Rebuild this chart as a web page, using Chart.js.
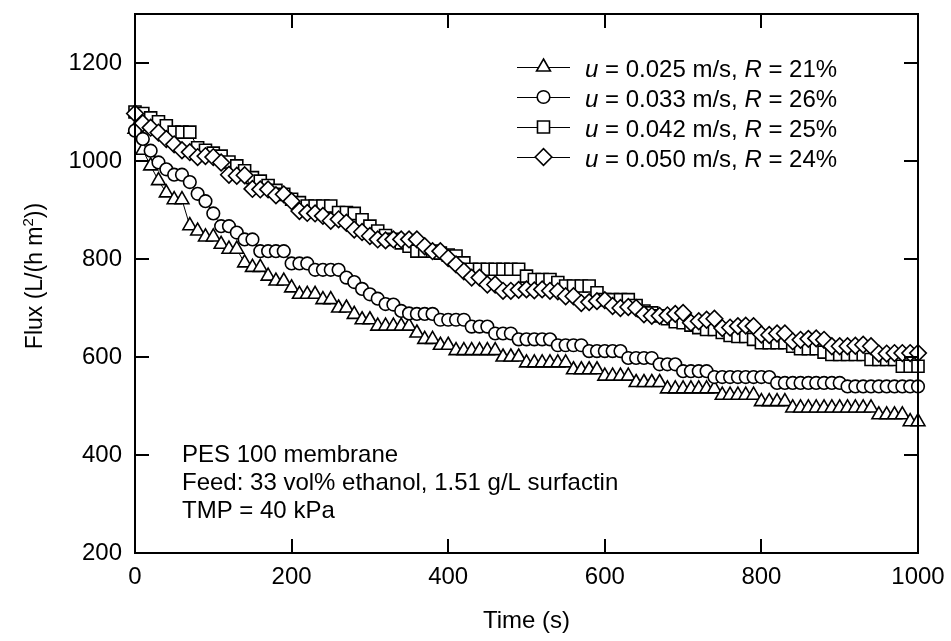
<!DOCTYPE html>
<html lang="en">
<head>
  <meta charset="UTF-8">
  <title>Flux vs time</title>
  <style>
    body {
      margin: 0;
      background: #fff;
    }
    canvas {
      display: block;
    }
  </style>
  <script src="https://cdn.jsdelivr.net/npm/chart.js"></script>
</head>
<body>
  <canvas id="chart" width="951" height="641"></canvas>

  <script>
    // time in seconds
    const time = [
      0, 10, 20, 30, 40, 50, 60, 70, 80, 90,
      100, 110, 120, 130, 140, 150, 160, 170, 180, 190,
      200, 210, 220, 230, 240, 250, 260, 270, 280, 290,
      300, 310, 320, 330, 340, 350, 360, 370, 380, 390,
      400, 410, 420, 430, 440, 450, 460, 470, 480, 490,
      500, 510, 520, 530, 540, 550, 560, 570, 580, 590,
      600, 610, 620, 630, 640, 650, 660, 670, 680, 690,
      700, 710, 720, 730, 740, 750, 760, 770, 780, 790,
      800, 810, 820, 830, 840, 850, 860, 870, 880, 890,
      900, 910, 920, 930, 940, 950, 960, 970, 980, 990,
      1000
    ];

    // flux, L/(h m2)
    const fluxU025 = [
      1065, 1022, 990, 960, 935, 921, 921, 868, 857, 845,
      845, 830, 820, 820, 792, 783, 783, 765, 755, 755,
      741, 728, 728, 728, 717, 717, 700, 700, 687, 676,
      676, 663, 663, 663, 663, 663, 649, 636, 636, 624,
      624, 613, 613, 613, 613, 613, 613, 600, 600, 600,
      588, 588, 588, 588, 588, 588, 574, 574, 574, 574,
      561, 561, 561, 561, 548, 548, 548, 548, 535, 535,
      535, 535, 535, 535, 535, 522, 522, 522, 522, 522,
      509, 509, 509, 509, 496, 496, 496, 496, 496, 496,
      496, 496, 496, 496, 496, 482, 482, 482, 482, 468,
      468
    ];
    const fluxU033 = [
      1062, 1045, 1021, 997, 983, 972, 972, 957, 933, 918,
      893, 867, 867, 854, 840, 840, 816, 816, 816, 816,
      791, 791, 791, 778, 778, 778, 778, 762, 753, 739,
      728, 719, 708, 707, 694, 689, 688, 688, 688, 676,
      676, 676, 676, 662, 662, 662, 648, 648, 648, 636,
      636, 636, 636, 636, 624, 624, 624, 624, 612, 612,
      612, 612, 612, 598, 598, 598, 598, 585, 585, 585,
      571, 571, 571, 571, 559, 559, 559, 559, 559, 559,
      559, 559, 547, 547, 547, 547, 547, 547, 547, 547,
      547, 540, 540, 540, 540, 540, 540, 540, 540, 540,
      540
    ];
    const fluxU042 = [
      1100, 1097, 1088, 1080, 1072, 1059, 1059, 1059, 1027, 1022,
      1016, 1010, 998, 990, 980, 966, 959, 950, 940, 932,
      922, 915, 908, 908, 908, 908, 895, 895, 893, 880,
      867, 857, 848, 840, 833, 826, 816, 816, 816, 812,
      808, 806, 792, 779, 779, 779, 779, 779, 779, 779,
      765, 758, 758, 758, 752, 745, 745, 745, 745, 731,
      717, 717, 717, 717, 705, 694, 690, 684, 678, 672,
      670, 665, 660, 656, 656, 650, 644, 642, 642, 636,
      629, 629, 629, 629, 622, 617, 617, 617, 610, 605,
      605, 605, 605, 605, 595, 595, 595, 595, 581, 581,
      581
    ];
    const fluxU050 = [
      1097, 1077, 1068, 1058, 1045, 1034, 1022, 1018, 1008, 1010,
      1008, 997, 972, 970, 971, 943, 942, 942, 930, 932,
      918, 898, 894, 893, 888, 878, 881, 874, 860, 855,
      847, 840, 838, 840, 840, 840, 840, 826, 816, 816,
      802, 789, 775, 762, 762, 748, 748, 735, 735, 737,
      738, 736, 738, 735, 734, 724, 724, 710, 712, 714,
      716, 704, 700, 702, 700, 687, 684, 684, 685, 688,
      690, 670, 673, 676, 678, 659, 660, 663, 664, 663,
      646, 645, 648, 648, 632, 635, 637, 638, 635, 622,
      622, 622, 623, 625, 622, 607, 607, 608, 608, 608,
      608
    ];

    const velocities = ['0.025', '0.033', '0.042', '0.050'];
    const rejections = ['21%', '26%', '25%', '24%'];
    const xTicks = [0, 200, 400, 600, 800, 1000];
    const yTicks = [200, 400, 600, 800, 1000, 1200];
    const notes = ['PES 100 membrane', 'Feed: 33 vol% ethanol, 1.51 g/L surfactin', 'TMP = 40 kPa'];

    const FONT = '"Liberation Sans", Arial, sans-serif';
    Chart.defaults.font.family = FONT;
    Chart.defaults.color = '#000';

    const markers = [
      { pointStyle: 'triangle', radius: 8 },
      { pointStyle: 'circle', radius: 6.3 },
      { pointStyle: 'rect', radius: 8.5 },
      { pointStyle: 'rectRot', radius: 8.3 }
    ];
    const seriesList = [fluxU025, fluxU033, fluxU042, fluxU050];

    function toPoints(values) {
      return values.map((v, i) => ({ x: time[i], y: v }));
    }

    const datasets = seriesList.map((values, i) => ({
      label: 'u = ' + velocities[i] + ' m/s, R = ' + rejections[i],
      data: toPoints(values),
      borderColor: '#000',
      borderWidth: 1,
      pointStyle: markers[i].pointStyle,
      pointRadius: markers[i].radius,
      pointBorderWidth: 1.6,
      pointBorderColor: '#000',
      pointBackgroundColor: '#fff',
      tension: 0,
      fill: false,
      clip: false,
      order: 4 - i
    }));

    function drawMarker(ctx, style, radius, x, y) {
      ctx.save();
      ctx.fillStyle = '#fff';
      ctx.strokeStyle = '#000';
      ctx.lineWidth = 1.6;
      if (Chart.helpers && Chart.helpers.drawPoint) {
        Chart.helpers.drawPoint(ctx, { pointStyle: style, radius: radius, borderWidth: 1.6, rotation: 0 }, x, y);
      } else {
        ctx.beginPath();
        ctx.arc(x, y, radius, 0, Math.PI * 2);
        ctx.fill();
        ctx.stroke();
      }
      ctx.restore();
    }

    // frame, inward ticks, legend, notes and axis titles
    const decorations = {
      id: 'decorations',
      afterDraw(chart) {
        const ctx = chart.ctx;
        const a = chart.chartArea;
        const xs = chart.scales.x;
        const ys = chart.scales.y;
        ctx.save();
        ctx.strokeStyle = '#000';
        ctx.lineWidth = 2;
        ctx.strokeRect(a.left, a.top, a.right - a.left, a.bottom - a.top);

        ctx.beginPath();
        xTicks.forEach(v => {
          const px = Math.round(xs.getPixelForValue(v));
          ctx.moveTo(px, a.bottom); ctx.lineTo(px, a.bottom - 14);
          ctx.moveTo(px, a.top); ctx.lineTo(px, a.top + 14);
        });
        yTicks.forEach(v => {
          const py = Math.round(ys.getPixelForValue(v));
          ctx.moveTo(a.left, py); ctx.lineTo(a.left + 14, py);
          ctx.moveTo(a.right, py); ctx.lineTo(a.right - 14, py);
        });
        ctx.stroke();

        // legend
        ctx.fillStyle = '#000';
        ctx.textBaseline = 'alphabetic';
        velocities.forEach((u, i) => {
          const yLine = 67 + i * 30;
          ctx.lineWidth = 1;
          ctx.beginPath();
          ctx.moveTo(517, yLine + 0.5);
          ctx.lineTo(570, yLine + 0.5);
          ctx.stroke();
          drawMarker(ctx, markers[i].pointStyle, markers[i].radius, 543.5, yLine);

          const parts = [
            ['u', true], [' = ' + u + ' m/s, ', false], ['R', true], [' = ' + rejections[i], false]
          ];
          let tx = 585;
          parts.forEach(([txt, italic]) => {
            ctx.font = (italic ? 'italic ' : '') + '24px ' + FONT;
            ctx.fillStyle = '#000';
            ctx.fillText(txt, tx, yLine + 10);
            tx += ctx.measureText(txt).width;
          });
        });

        // notes
        ctx.font = '24px ' + FONT;
        notes.forEach((t, i) => ctx.fillText(t, 182, 462 + i * 28));

        // x title
        ctx.font = '24px ' + FONT;
        ctx.textAlign = 'center';
        ctx.fillText('Time (s)', (a.left + a.right) / 2, 628);

        // y title with superscript
        ctx.save();
        ctx.translate(42, 276);
        ctx.rotate(-Math.PI / 2);
        ctx.textAlign = 'left';
        const p1 = 'Flux (L/(h m';
        const p2 = '2';
        const p3 = '))';
        ctx.font = '23px ' + FONT;
        const w1 = ctx.measureText(p1).width;
        const w3 = ctx.measureText(p3).width;
        ctx.font = '15px ' + FONT;
        const w2 = ctx.measureText(p2).width;
        const sx = -(w1 + w2 + w3) / 2;
        ctx.font = '23px ' + FONT;
        ctx.fillText(p1, sx, 0);
        ctx.font = '15px ' + FONT;
        ctx.fillText(p2, sx + w1, -9);
        ctx.font = '23px ' + FONT;
        ctx.fillText(p3, sx + w1 + w2, 0);
        ctx.restore();

        ctx.restore();
      }
    };

    const ctx = document.getElementById('chart').getContext('2d');
    const chart = new Chart(ctx, {
      type: 'line',
      data: { datasets: datasets },
      options: {
        responsive: false,
        animation: false,
        layout: { padding: { left: 0, right: 33, top: 14, bottom: 0 } },
        plugins: {
          legend: { display: false },
          tooltip: { enabled: false }
        },
        scales: {
          x: {
            type: 'linear',
            min: 0,
            max: 1000,
            grid: { display: false, drawTicks: false },
            border: { display: false },
            afterBuildTicks: s => { s.ticks = xTicks.map(v => ({ value: v })); },
            afterFit: s => { s.height = 88; s.paddingLeft = 0; s.paddingRight = 0; },
            ticks: { padding: 10, maxRotation: 0, font: { size: 24 }, color: '#000', callback: v => String(v) }
          },
          y: {
            type: 'linear',
            min: 200,
            max: 1300,
            grid: { display: false, drawTicks: false },
            border: { display: false },
            afterBuildTicks: s => { s.ticks = yTicks.map(v => ({ value: v })); },
            afterFit: s => { s.width = 135; s.paddingTop = 0; s.paddingBottom = 0; },
            ticks: { padding: 13, font: { size: 24 }, color: '#000', callback: v => String(v) }
          }
        }
      },
      plugins: [decorations]
    });
  </script>
</body>
</html>
